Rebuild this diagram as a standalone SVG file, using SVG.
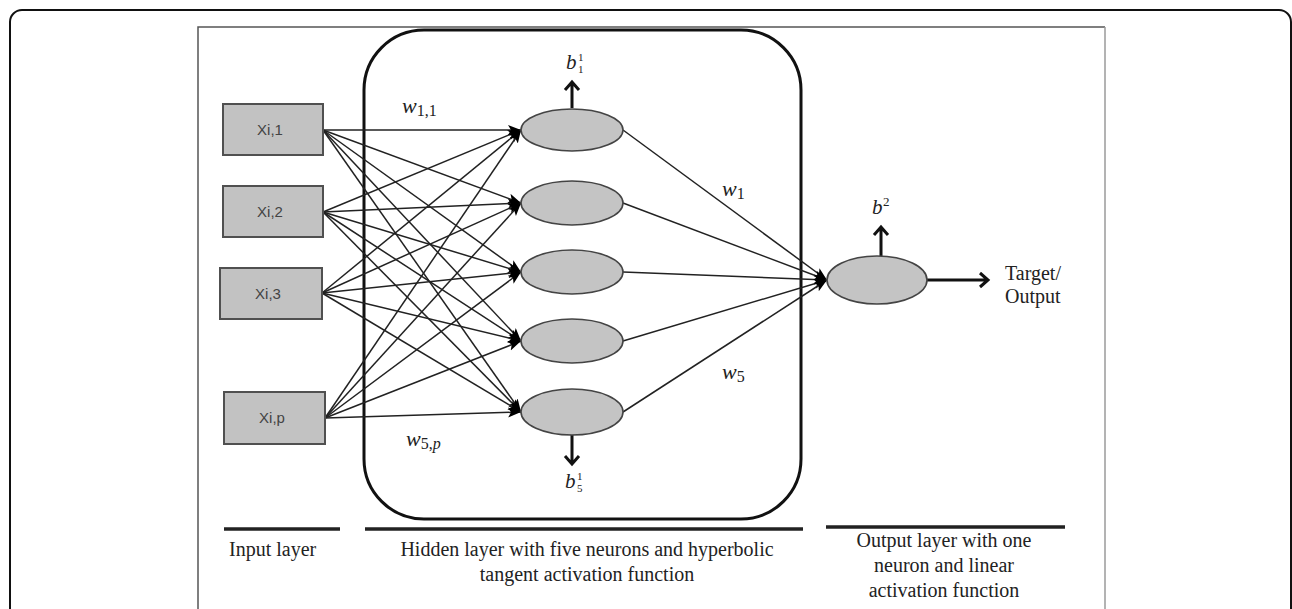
<svg xmlns="http://www.w3.org/2000/svg" width="1292" height="609" viewBox="0 0 1292 609">
  <defs>
    <style>
      .frame { fill: none; stroke: #111; stroke-width: 2; }
      .box { fill: #c2c2c2; stroke: #505050; stroke-width: 2; }
      .neuron { fill: #c4c4c4; stroke: #444; stroke-width: 1.6; }
      .edge { stroke: #222; stroke-width: 1.5; fill: none; marker-end: url(#head); }
      .bias { stroke: #111; stroke-width: 3; fill: none; }
      .group { fill: none; stroke: #111; stroke-width: 3; }
      .rule { stroke: #222; stroke-width: 3.5; }
      .xlabel { font-family: "Liberation Sans", Arial, sans-serif; font-size: 15px; fill: #444; text-anchor: middle; }
      .caption { font-family: "Liberation Serif", "Times New Roman", serif; font-size: 20px; fill: #222; }
      .math { font-family: "Liberation Serif", "Times New Roman", serif; font-style: italic; fill: #222; }
      .sub { font-family: "Liberation Serif", "Times New Roman", serif; font-style: normal; fill: #222; }
    </style>
    <marker id="head" markerUnits="userSpaceOnUse" markerWidth="14" markerHeight="11" refX="13" refY="5" orient="auto">
      <path d="M0,0 L13,5 L0,10 L3,5 z" fill="#000"/>
    </marker>
  </defs>

  <!-- outer frame and panel -->
  <rect class="frame" x="10" y="10" width="1281" height="700" rx="12"/>
  <path d="M198,620 L198,27 L1105,27" fill="none" stroke="#555" stroke-width="1.5"/>
  <line x1="1105" y1="27" x2="1105" y2="620" stroke="#9a9a9a" stroke-width="1.5"/>

  <!-- hidden layer enclosure -->
  <rect id="hidden-group" class="group" x="364" y="30" width="437" height="489" rx="60"/>

  <!-- connectors -->
  <g id="connectors">
    <!-- input -> hidden -->
    <line class="edge" x1="323" y1="130" x2="521" y2="130"/>
    <line class="edge" x1="323" y1="130" x2="521" y2="203"/>
    <line class="edge" x1="323" y1="130" x2="521" y2="272"/>
    <line class="edge" x1="323" y1="130" x2="521" y2="341"/>
    <line class="edge" x1="323" y1="130" x2="521" y2="412"/>

    <line class="edge" x1="323" y1="212" x2="521" y2="130"/>
    <line class="edge" x1="323" y1="212" x2="521" y2="203"/>
    <line class="edge" x1="323" y1="212" x2="521" y2="272"/>
    <line class="edge" x1="323" y1="212" x2="521" y2="341"/>
    <line class="edge" x1="323" y1="212" x2="521" y2="412"/>

    <line class="edge" x1="322" y1="293" x2="521" y2="130"/>
    <line class="edge" x1="322" y1="293" x2="521" y2="203"/>
    <line class="edge" x1="322" y1="293" x2="521" y2="272"/>
    <line class="edge" x1="322" y1="293" x2="521" y2="341"/>
    <line class="edge" x1="322" y1="293" x2="521" y2="412"/>

    <line class="edge" x1="325" y1="418" x2="521" y2="130"/>
    <line class="edge" x1="325" y1="418" x2="521" y2="203"/>
    <line class="edge" x1="325" y1="418" x2="521" y2="272"/>
    <line class="edge" x1="325" y1="418" x2="521" y2="341"/>
    <line class="edge" x1="325" y1="418" x2="521" y2="412"/>

    <!-- hidden -> output -->
    <line class="edge" x1="623" y1="130" x2="827" y2="280"/>
    <line class="edge" x1="623" y1="203" x2="827" y2="280"/>
    <line class="edge" x1="623" y1="272" x2="827" y2="280"/>
    <line class="edge" x1="623" y1="341" x2="827" y2="280"/>
    <line class="edge" x1="623" y1="412" x2="827" y2="280"/>

    <!-- bias and output arrows -->
    <path class="bias" d="M572,108 L572,82 M565,90 L572,82 L579,90"/>
    <path class="bias" d="M572,434 L572,464 M565,456 L572,464 L579,456"/>
    <path class="bias" d="M881,256 L881,227 M874,235 L881,227 L888,235"/>
    <path class="bias" d="M927,280 L988,280 M980,273 L988,280 L980,287"/>
  </g>

  <!-- input nodes -->
  <g id="x1"><rect class="box" x="223" y="104" width="100" height="51"/><text class="xlabel" x="270" y="135">Xi,1</text></g>
  <g id="x2"><rect class="box" x="223" y="186" width="100" height="51"/><text class="xlabel" x="270" y="217">Xi,2</text></g>
  <g id="x3"><rect class="box" x="220" y="268" width="102" height="51"/><text class="xlabel" x="268" y="299">Xi,3</text></g>
  <g id="xp"><rect class="box" x="224" y="392" width="101" height="52"/><text class="xlabel" x="272" y="423">Xi,p</text></g>

  <!-- hidden neurons -->
  <g id="h1"><ellipse class="neuron" cx="572" cy="130" rx="51" ry="21"/></g>
  <g id="h2"><ellipse class="neuron" cx="572" cy="203" rx="51" ry="22"/></g>
  <g id="h3"><ellipse class="neuron" cx="572" cy="272" rx="51" ry="22"/></g>
  <g id="h4"><ellipse class="neuron" cx="572" cy="341" rx="51" ry="22"/></g>
  <g id="h5"><ellipse class="neuron" cx="572" cy="412" rx="51" ry="23"/></g>

  <!-- output neuron -->
  <g id="out"><ellipse class="neuron" cx="877" cy="280" rx="50" ry="24"/></g>

  <!-- weight and bias labels -->
  <g id="labels">
    <text class="math" x="402" y="113" font-size="22">w<tspan class="sub" font-size="16" dy="3">1,1</tspan></text>
    <text class="math" x="722" y="196" font-size="22">w<tspan class="sub" font-size="16" dy="3">1</tspan></text>
    <text class="math" x="722" y="379" font-size="22">w<tspan class="sub" font-size="16" dy="3">5</tspan></text>
    <text class="math" x="406" y="446" font-size="22">w<tspan class="sub" font-size="16" dy="3">5,<tspan font-style="italic">p</tspan></tspan></text>

    <text class="math" x="566" y="69" font-size="21">b</text>
    <text class="sub" x="578" y="61" font-size="11">1</text>
    <text class="sub" x="578" y="73" font-size="11">1</text>

    <text class="math" x="565" y="488" font-size="21">b</text>
    <text class="sub" x="577" y="480" font-size="11">1</text>
    <text class="sub" x="577" y="492" font-size="11">5</text>

    <text class="math" x="872" y="214" font-size="21">b</text>
    <text class="sub" x="883" y="206" font-size="13">2</text>

    <text class="caption" x="1005" y="280">Target/</text>
    <text class="caption" x="1005" y="303">Output</text>
  </g>

  <!-- layer captions -->
  <g id="captions">
    <line class="rule" x1="224" y1="529" x2="340" y2="529"/>
    <line class="rule" x1="365" y1="529" x2="803" y2="529"/>
    <line class="rule" x1="826" y1="527" x2="1065" y2="527"/>
    <text class="caption" x="229" y="556">Input layer</text>
    <text class="caption" x="587" y="556" text-anchor="middle">Hidden layer with five neurons and hyperbolic</text>
    <text class="caption" x="587" y="581" text-anchor="middle">tangent activation function</text>
    <text class="caption" x="944" y="547" text-anchor="middle">Output layer with one</text>
    <text class="caption" x="944" y="572" text-anchor="middle">neuron and linear</text>
    <text class="caption" x="944" y="597" text-anchor="middle">activation function</text>
  </g>
</svg>
